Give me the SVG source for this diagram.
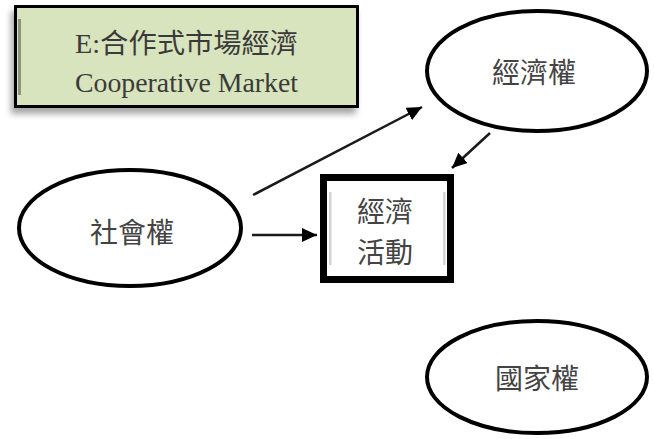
<svg xmlns="http://www.w3.org/2000/svg" width="654" height="439" viewBox="0 0 654 439">
  <style>
    .ell { fill: #ffffff; stroke: #000000; stroke-width: 4; }
    .cjk { font-family: "Noto Sans CJK TC", "Noto Sans CJK SC", sans-serif; fill: #444444; text-anchor: middle; dominant-baseline: central; font-size: 28px; }
    .title { font-family: "Liberation Serif", "Noto Sans CJK TC", serif; fill: #3a3a3a; text-anchor: middle; }
    .conn { stroke: #1a1a1a; stroke-width: 2.5; fill: none; marker-end: url(#arrow); }
  </style>
  <defs>
    <marker id="arrow" markerUnits="userSpaceOnUse" markerWidth="18" markerHeight="16" refX="15" refY="7" orient="auto">
      <path d="M0,0 L15,7 L0,14 Z" fill="#000000"/>
    </marker>
    <filter id="shadow" x="-10%" y="-20%" width="120%" height="150%">
      <feDropShadow dx="-3" dy="6" stdDeviation="3" flood-color="#000000" flood-opacity="0.35"/>
    </filter>
  </defs>
  <rect width="654" height="439" fill="#ffffff"/>

  <g id="title-box">
    <rect x="15.5" y="6.5" width="342" height="100" fill="#d8e4bd" stroke="#000000" stroke-width="3" filter="url(#shadow)"/>
    <rect x="18" y="19" width="3" height="76" fill="#8d9776"/>
    <text class="title" x="186.5" y="53" font-size="27" textLength="223" lengthAdjust="spacingAndGlyphs">E:合作式市場經濟</text>
    <text class="title" x="186.5" y="92" font-size="27" textLength="223" lengthAdjust="spacingAndGlyphs">Cooperative Market</text>
  </g>

  <g id="node-economic-power">
    <ellipse class="ell" cx="537" cy="71" rx="110" ry="60"/>
    <text class="cjk" x="534" y="71">經濟權</text>
  </g>

  <g id="node-social-power">
    <ellipse class="ell" cx="130" cy="228" rx="111" ry="58"/>
    <text class="cjk" x="132" y="231">社會權</text>
  </g>

  <g id="node-economic-activity">
    <rect x="323.5" y="177.5" width="127" height="102" fill="#ffffff" stroke="#000000" stroke-width="7"/>
    <rect x="329" y="192" width="2.5" height="73" fill="#d4d4d4"/>
    <rect x="443" y="192" width="2.5" height="73" fill="#d4d4d4"/>
    <text class="cjk" x="385" y="210">經濟</text>
    <text class="cjk" x="385" y="251">活動</text>
  </g>

  <g id="node-state-power">
    <ellipse class="ell" cx="537" cy="377" rx="110" ry="56"/>
    <text class="cjk" x="537" y="377">國家權</text>
  </g>

  <g id="connectors">
    <line class="conn" x1="252" y1="235" x2="317" y2="235"/>
    <line class="conn" x1="253" y1="195" x2="422" y2="107"/>
    <line class="conn" x1="490" y1="133" x2="452" y2="168"/>
  </g>
</svg>
